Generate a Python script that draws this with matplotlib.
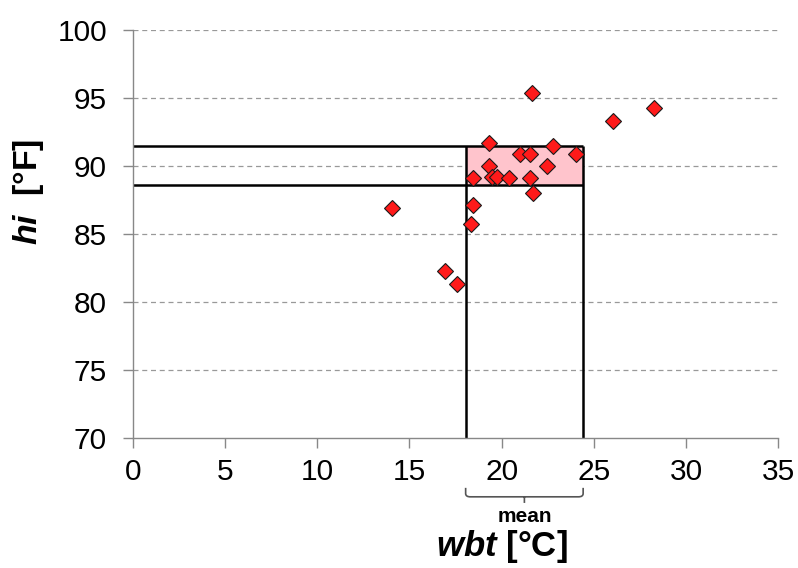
import matplotlib
matplotlib.use("Agg")
import matplotlib.pyplot as plt
from matplotlib.path import Path
from matplotlib.patches import PathPatch, Rectangle

plt.rcParams['font.family'] = ['Liberation Sans', 'DejaVu Sans']
plt.rcParams['mathtext.fontset'] = 'custom'
plt.rcParams['mathtext.it'] = 'Liberation Sans:style=italic:weight=bold'
plt.rcParams['mathtext.rm'] = 'Liberation Sans:weight=bold'
plt.rcParams['mathtext.bf'] = 'Liberation Sans:weight=bold'

# ---- data ----
wbt = [21.63, 28.25, 26.02, 19.33, 22.80, 20.99, 21.53, 24.03, 19.33, 22.44,
       18.43, 19.46, 19.73, 20.41, 21.53, 21.71, 18.43, 18.32, 14.04, 16.93, 17.56]
hi = [95.40, 94.27, 93.32, 91.65, 91.48, 90.86, 90.86, 90.86, 89.98, 89.98,
      89.14, 89.19, 89.19, 89.14, 89.14, 88.04, 87.15, 85.76, 86.88, 82.29, 81.29]
mean_wbt = [18.05, 24.42]   # lower / upper bound of mean wbt
mean_hi = [88.63, 91.45]    # lower / upper bound of mean hi
xticks = [0, 5, 10, 15, 20, 25, 30, 35]
yticks = [70, 75, 80, 85, 90, 95, 100]

W, H = 798, 568
fig = plt.figure(figsize=(W / 100, H / 100), dpi=100)
ax = fig.add_axes([132.7 / W, (H - 437.7) / H, (778.3 - 132.7) / W, (437.7 - 30) / H])

ax.set_xlim(0, 35)
ax.set_ylim(70, 100)
ax.set_xticks(xticks)
ax.set_yticks(yticks)
ax.tick_params(axis='both', labelsize=21.5, color='#888888', length=7, width=1)
ax.tick_params(axis='y', pad=11.5)
ax.tick_params(axis='x', pad=7.5)
for s in ['top', 'right']:
    ax.spines[s].set_visible(False)
for s in ['left', 'bottom']:
    ax.spines[s].set_color('#888888')
    ax.spines[s].set_linewidth(1)

for y in yticks[1:]:
    ax.axhline(y, color='#999999', lw=0.9, ls=(0, (4, 3)), zorder=0.5)

# mean box
ax.add_patch(Rectangle((mean_wbt[0], mean_hi[0]), mean_wbt[1] - mean_wbt[0],
                       mean_hi[1] - mean_hi[0], facecolor='#FFC4CC', edgecolor='none', zorder=1))
lk = dict(color='black', lw=1.8, zorder=2, solid_capstyle='butt')
ax.plot([0, mean_wbt[1]], [mean_hi[1], mean_hi[1]], **lk)
ax.plot([0, mean_wbt[1]], [mean_hi[0], mean_hi[0]], **lk)
ax.plot([mean_wbt[0], mean_wbt[0]], [70, mean_hi[1]], **lk)
ax.plot([mean_wbt[1], mean_wbt[1]], [70, mean_hi[1]], **lk)

ax.plot(wbt, hi, ls='none', marker='D', ms=8.5, mfc='#FF1A1A', mec='#1a1a1a', mew=0.8, zorder=3)

# brace under x axis
tr = ax.get_xaxis_transform()
x0, x1 = mean_wbt
xc = (x0 + x1) / 2
yt, ym, yp = -0.123, -0.145, -0.160
d = 0.25
verts = [(x0, yt), (x0, ym + 0.008), (x0, ym), (x0 + d, ym), (x1 - d, ym), (x1, ym),
         (x1, ym + 0.008), (x1, yt), (xc, ym), (xc, yp)]
codes = [Path.MOVETO, Path.LINETO, Path.CURVE3, Path.CURVE3, Path.LINETO, Path.CURVE3,
         Path.CURVE3, Path.LINETO, Path.MOVETO, Path.LINETO]
ax.add_patch(PathPatch(Path(verts, codes), transform=tr, fill=False, edgecolor='#555555',
                       lw=1.2, clip_on=False))
ax.text(xc, -0.1945, 'mean', transform=tr, ha='center', va='center', fontsize=15,
        fontweight='bold')

fig.text(502 / W, 1 - 556 / H, '$wbt$ [°C]', ha='center', va='baseline', fontsize=25,
         fontweight='bold')
fig.text(29 / W, 1 - 192 / H, '$hi$  [°F]', ha='center', va='center', rotation=90,
         fontsize=24.5, fontweight='bold')

fig.savefig('out.png', dpi=100)
